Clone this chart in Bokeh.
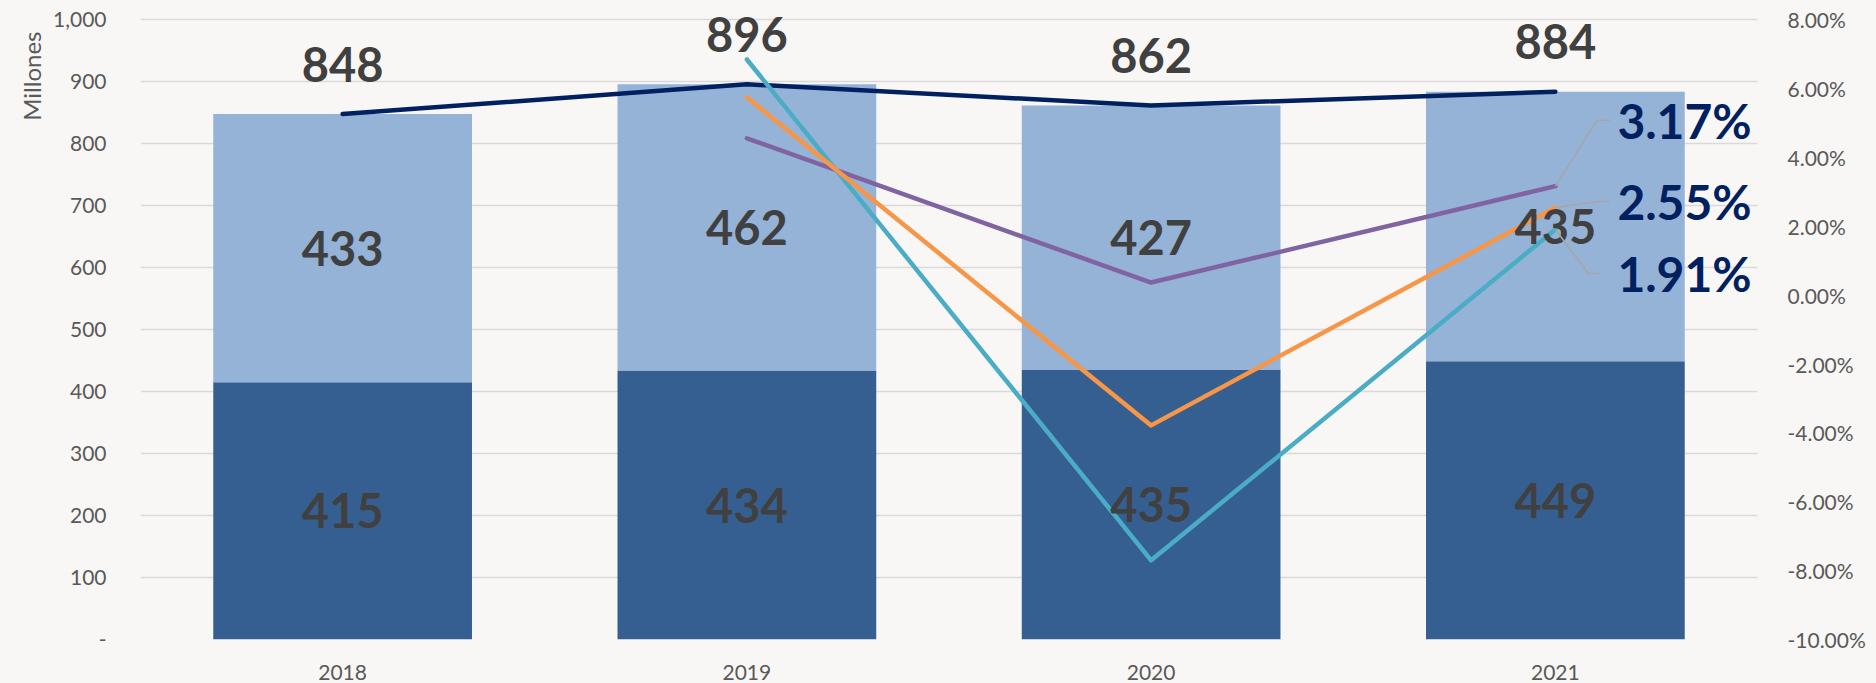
from bokeh.plotting import figure
from bokeh.models import (ColumnDataSource, FactorRange, Range1d, LinearAxis, FixedTicker,
                          NumeralTickFormatter, Title)
from bokeh.core.properties import value
from bokeh.embed import file_html
from bokeh.resources import INLINE

# ---- data ----
years = ["2018", "2019", "2020", "2021"]
base_vals = [415, 434, 435, 449]
upper_vals = [433, 462, 427, 435]
totals = [848, 896, 862, 884]

growth_years = ["2019", "2020", "2021"]
growth_teal = [0.0685, -0.0770, 0.0191]
growth_orange = [0.0575, -0.0378, 0.0255]
growth_purple = [0.0456, 0.0037, 0.0317]

left_ticks = list(range(0, 1001, 100))
right_ticks = [-0.10, -0.08, -0.06, -0.04, -0.02, 0.0, 0.02, 0.04, 0.06, 0.08]

# ---- style ----
BG = "#F8F7F5"
DARK = "#365F91"
LIGHT = "#95B3D7"
NAVY = "#002060"
TEAL = "#4BACC6"
ORANGE = "#F79646"
PURPLE = "#8064A2"
TXT = "#404040"
AX = "#595959"
FONT = "Lato"

HEAD = 20  # extra headroom (left-axis units) above the top tick so labels are not clipped
p = figure(x_range=FactorRange(*years), y_range=Range1d(0, 1000 + HEAD),
           width=1868, height=683, output_backend="svg", toolbar_location=None,
           min_border_left=140, min_border_right=109, min_border_top=7, min_border_bottom=44)
p.background_fill_color = BG
p.border_fill_color = BG
p.outline_line_color = None
p.extra_y_ranges = {"pct": Range1d(-0.10, 0.08 + HEAD * 0.18 / 1000)}

# axes
p.yaxis.ticker = FixedTicker(ticks=left_ticks)
p.yaxis.formatter = NumeralTickFormatter(format="0,0")
p.yaxis.major_label_overrides = {0: "-"}
for ax in [p.yaxis[0], p.xaxis[0]]:
    ax.axis_line_color = None
    ax.major_tick_line_color = None
    ax.minor_tick_line_color = None
    ax.major_label_text_font = FONT
    ax.major_label_text_font_size = "21px"
    ax.major_label_text_color = AX
p.yaxis.major_label_standoff = 28
p.xaxis.major_label_standoff = 19

ra = LinearAxis(y_range_name="pct", ticker=FixedTicker(ticks=right_ticks),
                formatter=NumeralTickFormatter(format="0.00%"))
ra.axis_line_color = None
ra.major_tick_line_color = None
ra.minor_tick_line_color = None
ra.major_label_text_font = FONT
ra.major_label_text_font_size = "21px"
ra.major_label_text_color = AX
ra.major_label_standoff = 24
p.add_layout(ra, "right")

p.xgrid.grid_line_color = None
p.ygrid.ticker = FixedTicker(ticks=left_ticks)
p.ygrid.grid_line_color = "#D9D9D9"
p.ygrid.grid_line_width = 1.5
p.x_range.range_padding = 0

# axis title, at the top of the left side
p.add_layout(Title(text="Millones", align="right", offset=24, text_font=FONT,
                   text_font_size="24px", text_color=AX, text_font_style="normal"), "left")

# bars
src = ColumnDataSource(dict(year=years, base=base_vals, upper=upper_vals, total=totals,
                            base_mid=[b / 2 for b in base_vals],
                            upper_mid=[b + u / 2 for b, u in zip(base_vals, upper_vals)],
                            base_txt=[str(v) for v in base_vals],
                            upper_txt=[str(v) for v in upper_vals],
                            total_txt=[str(v) for v in totals]))
p.vbar_stack(["base", "upper"], x="year", width=0.64, color=[DARK, LIGHT], line_width=0, source=src)

# total line
p.line(x="year", y="total", source=src, line_color=NAVY, line_width=4.5, line_cap="round")

# growth lines
for vals, col in [(growth_purple, PURPLE), (growth_teal, TEAL), (growth_orange, ORANGE)]:
    p.line(x=growth_years, y=vals, y_range_name="pct", line_color=col, line_width=4.5,
           line_cap="round", line_join="round")

# bar labels
lab_kw = dict(text_font=value(FONT), text_font_style="bold", text_font_size="47px",
              text_color=TXT, text_align="center", text_baseline="middle")
p.text(x="year", y="base_mid", text="base_txt", source=src, **lab_kw)
p.text(x="year", y="upper_mid", text="upper_txt", source=src, **lab_kw)
p.text(x="year", y="total", text="total_txt", source=src, y_offset=-50, **lab_kw)

# end labels for growth lines with leader lines
ends = [growth_purple[-1], growth_orange[-1], growth_teal[-1]]
label_dy_px = [-66, -6, 44]          # label centre relative to point, px (down positive)
elbow_dx_px = [42, 43, 33]
end_dx_px = [55, 55, 45]
cat_px = 1619 / 4.0
pct_px = 619.5 / 0.18
x_end = 3.5
xs, ys = [], []
for v, dy, ex, nx in zip(ends, label_dy_px, elbow_dx_px, end_dx_px):
    ly = v - dy / pct_px
    xs.append([x_end, x_end + ex / cat_px, x_end + nx / cat_px])
    ys.append([v, ly, ly])
p.multi_line(xs=xs, ys=ys, y_range_name="pct", line_color="#A6A6A6", line_width=1.5)
p.text(x=[x_end] * 3, y=ends, text=[f"{v*100:.2f}%" for v in ends], y_range_name="pct",
       x_offset=62, y_offset=label_dy_px, text_font=value(FONT), text_font_style="bold",
       text_font_size="48px", text_color=NAVY, text_align="left", text_baseline="middle")

html = file_html(p, INLINE)
html = html.replace("<head>", "<head><style>html,body{background:#F8F7F5;}</style>", 1)
open("out.html", "w").write(html)
